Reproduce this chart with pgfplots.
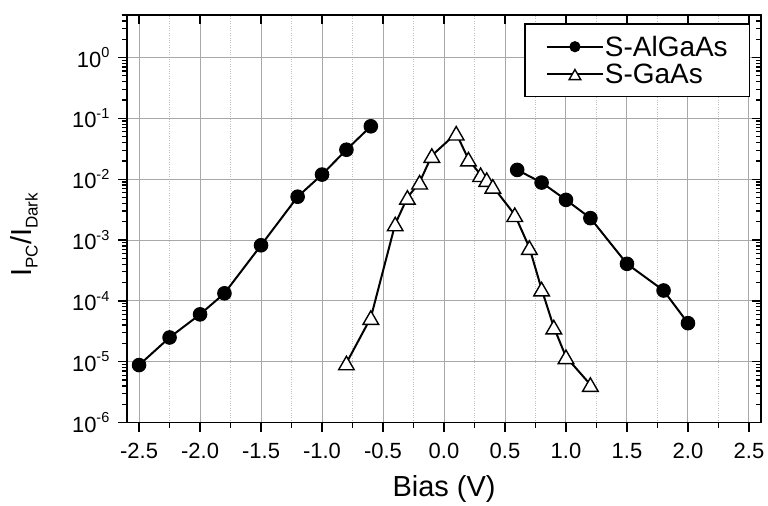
\documentclass[border=0pt]{standalone}
\usepackage{fontspec}
\setmainfont{Liberation Sans}
\usepackage{pgfplots}
\pgfplotsset{compat=1.18}
\usepackage{pgfplotstable}

\pgfplotstableread{
x y
-2.5 8.8e-6
-2.25 2.5e-5
-2.0 6.0e-5
-1.8 1.33e-4
-1.5 8.2e-4
-1.2 5.15e-3
-1.0 1.19e-2
-0.8 3.05e-2
-0.6 7.4e-2
0.0 nan
0.6 1.42e-2
0.8 8.8e-3
1.0 4.57e-3
1.2 2.29e-3
1.5 4.06e-4
1.8 1.48e-4
2.0 4.3e-5
}\algaas

\pgfplotstableread{
x y
-0.8 9.5e-6
-0.6 5.3e-5
-0.4 1.83e-3
-0.3 5.0e-3
-0.2 8.9e-3
-0.1 2.44e-2
0.1 5.68e-2
0.2 2.13e-2
0.3 1.18e-2
0.35 9.8e-3
0.4 7.6e-3
0.58 2.6e-3
0.7 7.5e-4
0.8 1.56e-4
0.9 3.7e-5
1.0 1.2e-5
1.2 4.2e-6
}\gaas

\newcommand{\ytl}[1]{10\raisebox{0.42em}{\fontsize{14.5bp}{15bp}\selectfont #1}}
\newcommand{\sub}[1]{\raisebox{-0.22em}{\fontsize{17bp}{18bp}\selectfont #1}}

\pgfplotsset{
  mybase/.style={
    scale only axis, width=635bp, height=408bp,
    xmin=-2.6, xmax=2.6, ymin=1e-6, ymax=5,
    xtick={-2.5,-2,-1.5,-1,-0.5,0,0.5,1,1.5,2,2.5},
    ytick={1e-6,1e-5,1e-4,1e-3,1e-2,1e-1,1},
    minor ytick={2e-6,3e-6,4e-6,5e-6,6e-6,7e-6,8e-6,9e-6,
                 2e-5,3e-5,4e-5,5e-5,6e-5,7e-5,8e-5,9e-5,
                 2e-4,3e-4,4e-4,5e-4,6e-4,7e-4,8e-4,9e-4,
                 2e-3,3e-3,4e-3,5e-3,6e-3,7e-3,8e-3,9e-3,
                 2e-2,3e-2,4e-2,5e-2,6e-2,7e-2,8e-2,9e-2,
                 2e-1,3e-1,4e-1,5e-1,6e-1,7e-1,8e-1,9e-1,
                 2,3,4,5},
    major tick length=9bp, minor tick length=5bp,
    every tick/.style={black, line width=1.3bp},
    axis line style={line width=1.8bp},
  }
}

\begin{document}
\begin{tikzpicture}
\begin{axis}[ymode=log, mybase,
  minor x tick num=1,
  tick align=outside, xtick pos=left, ytick pos=left,
  xticklabels={-2.5,-2.0,-1.5,-1.0,-0.5,0.0,0.5,1.0,1.5,2.0,2.5},
  yticklabels={\ytl{-6},\ytl{-5},\ytl{-4},\ytl{-3},\ytl{-2},\ytl{-1},\ytl{0}},
  xmajorgrids, xminorgrids, ymajorgrids,
  major grid style={draw=black!34, line width=1bp},
  minor grid style={draw=black!25, dotted, line width=0.7bp},
  xticklabel style={font=\fontsize{22bp}{24bp}\selectfont, yshift=-8bp},
  yticklabel style={font=\fontsize{22bp}{24bp}\selectfont, xshift=-5bp},
  xlabel={Bias (V)},
  ylabel={I\sub{PC}/I\sub{Dark}},
  label style={font=\fontsize{29bp}{31bp}\selectfont},
  xlabel style={at={(axis description cs:0.5,-0.1814)}, anchor=base},
  ylabel style={at={(axis description cs:-0.1622,0.461)}, anchor=center},
  unbounded coords=jump,
  legend style={at={(axis description cs:0.983,0.98)}, anchor=north east,
    draw=black, line width=1.4bp,
    font=\fontsize{28bp}{30bp}\selectfont,
    nodes={inner sep=1bp},
    inner xsep=21bp, inner ysep=11bp, row sep=4bp},
  legend cell align=left,
  legend image code/.code={
    \draw[mark repeat=2,mark phase=2,#1,every mark/.append style={scale=0.75}]
      plot coordinates {(0bp,0bp) (28bp,0bp) (56bp,0bp)};
  },
]
\addplot[black, line width=2bp, mark=*, mark size=6.8bp,
  mark options={solid, fill=black, line width=1bp}] table {\algaas};
\addplot[black, line width=2bp, mark=triangle*, mark size=9bp,
  mark options={solid, fill=white, line width=1.4bp, yshift=-2.2bp}] table {\gaas};
\legend{S-AlGaAs, S-GaAs}
\end{axis}
\begin{axis}[ymode=log, mybase,
  minor x tick num=0,
  tick align=inside, xtick pos=right, ytick pos=right,
  xticklabels={}, yticklabels={},
]
\addplot[draw=none, forget plot] coordinates {(0,1e-3)};
\end{axis}
\path[use as bounding box] (-127bp,-81bp) rectangle (641bp,423bp);
\end{tikzpicture}
\end{document}
